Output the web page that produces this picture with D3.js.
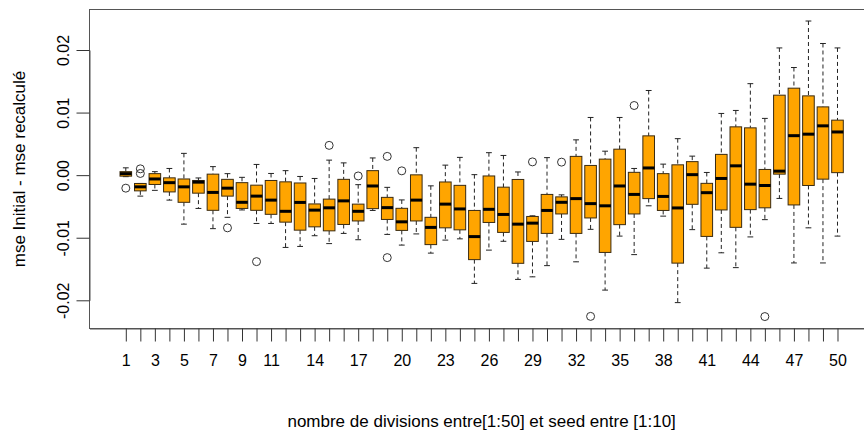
<!DOCTYPE html>
<html>
<head>
<meta charset="utf-8">
<script src="https://cdn.jsdelivr.net/npm/d3@7"></script>
<style>
  body { margin: 0; background: #fff; }
  svg text { font-family: "Liberation Sans", Arial, Helvetica, sans-serif; fill: #000; }
</style>
</head>
<body>
<div id="chart"></div>
<script>
// divisions 1..50 (one box each)
var divisions = [1, 2, 3, 4, 5, 6, 7, 8, 9, 10, 11, 12, 13, 14, 15, 16, 17, 18, 19, 20,
  21, 22, 23, 24, 25, 26, 27, 28, 29, 30, 31, 32, 33, 34, 35, 36, 37, 38, 39, 40,
  41, 42, 43, 44, 45, 46, 47, 48, 49, 50];
var xTickLabels = [1, 3, 5, 7, 9, 11, 14, 17, 20, 23, 26, 29, 32, 35, 38, 41, 44, 47, 50];
var yTicks = [-0.02, -0.01, 0, 0.01, 0.02];

// boxplot stats
var whiskerHigh = [0.00117, -0.00133, 0.00056, 0.00107, 0.00348, -0.00045, 0.00136, 0.00024, -0.00035, 0.00171,
  0.00027, 0.00072, -0.00021, -0.00053, 0.0024, 0.00196, -0.00152, 0.00275, -0.00195, -0.00396,
  0.00439, -0.00171, 0.0016, 0.00284, 0.00008, 0.00359, 0.00315, 0.00051, -0.0065, 0.0028,
  -0.00315, 0.00564, 0.00922, 0.00383, 0.00922, 0.00107, 0.01353, 0.00176, 0.00583, 0.00304,
  0.00043, 0.00986, 0.01034, 0.01462, 0.00907, 0.02033, 0.0172, 0.02463, 0.02104, 0.02033];
var q3 = [0.00056, -0.00133, 0.00024, -0.00043, -0.00061, -0.00085, 0.00016, -0.00067, -0.0012, -0.0016,
  -0.00085, -0.00107, -0.00125, -0.0046, -0.00383, -0.00067, -0.00463, 0.00072, -0.00355, -0.0053,
  0.00005, -0.00674, -0.00109, -0.00163, -0.00564, -0.00013, -0.00192, -0.00069, -0.0066, -0.00308,
  -0.00347, 0.003, 0.00155, 0.00256, 0.00415, 0.00045, 0.00628, 0.00024, 0.00165, 0.00216,
  -0.00131, 0.00332, 0.00772, 0.00756, 0.00091, 0.01278, 0.0139, 0.01267, 0.01091, 0.00879];
var median = [0.00024, -0.00187, -0.00061, -0.0012, -0.00187, -0.00112, -0.00276, -0.00208, -0.00434, -0.00335,
  -0.00399, -0.00578, -0.00436, -0.00559, -0.00522, -0.00411, -0.00578, -0.00173, -0.00519, -0.00746,
  -0.00399, -0.00835, -0.00463, -0.0054, -0.00982, -0.00546, -0.00628, -0.00783, -0.00767, -0.00564,
  -0.00434, -0.00375, -0.00455, -0.0049, -0.00173, -0.00308, 0.00115, -0.0034, -0.00524, 0.00008,
  -0.0028, -0.00053, 0.00149, -0.00144, -0.00165, 0.00064, 0.00631, 0.00655, 0.00788, 0.0069];
var q1 = [-0.00016, -0.00251, -0.00149, -0.00268, -0.00434, -0.00288, -0.00562, -0.00335, -0.00532, -0.00562,
  -0.00626, -0.00751, -0.00879, -0.00826, -0.0089, -0.00788, -0.00732, -0.00535, -0.00708, -0.00883,
  -0.00732, -0.0111, -0.00842, -0.00874, -0.0135, -0.00756, -0.00915, -0.01409, -0.01059, -0.00931,
  -0.0062, -0.00931, -0.00684, -0.01235, -0.00791, -0.0062, -0.00375, -0.00564, -0.01406, -0.00466,
  -0.00979, -0.00556, -0.00834, -0.00551, -0.00522, 0.00016, -0.00476, -0.00165, -0.00064, 0.0004];
var whiskerLow = [-0.00024, -0.00335, -0.00243, -0.00399, -0.00783, -0.00532, -0.00855, -0.00674, -0.00556, -0.00772,
  -0.00772, -0.01155, -0.01139, -0.00968, -0.01094, -0.00931, -0.01032, -0.00564, -0.00947, -0.01118,
  -0.00939, -0.01246, -0.01038, -0.01018, -0.0173, -0.01198, -0.01057, -0.01666, -0.01625, -0.01446,
  -0.01026, -0.01385, -0.00866, -0.01837, -0.00974, -0.0127, -0.0049, -0.00655, -0.02037, -0.00871,
  -0.01486, -0.01241, -0.01478, -0.00987, -0.00711, -0.00372, -0.01403, -0.00842, -0.01403, -0.00974];
// outliers: [division, value]
var outliers = [[1, -0.00208], [2, 0.00101], [2, 0.00027], [8, -0.00842], [10, -0.01382],
  [15, 0.00476], [17, -0.00013], [19, 0.003], [19, -0.01318], [20, 0.00069],
  [29, 0.00212], [31, 0.00208], [33, -0.02257], [36, 0.01113], [45, -0.0226]];

var width = 864, height = 437;
var plotLeft = 89.5, plotRight = 873.8, plotTop = 9.5, plotBottom = 328.5;

var svg = d3.select("#chart").append("svg")
  .attr("width", width)
  .attr("height", height);

var x = d3.scaleLinear().domain([-1.5, 52.5]).range([plotLeft, plotRight]);
var y = d3.scaleLinear().domain([-0.02, 0.02]).range([300.3, 50]);

var step = x(2) - x(1);
var boxW = step * 0.8;
var stapleW = boxW * 0.5;

var boxes = divisions.map(function (d, i) {
  return { div: d, lo: whiskerLow[i], q1: q1[i], med: median[i], q3: q3[i], hi: whiskerHigh[i] };
});

var g = svg.selectAll("g.box").data(boxes).enter().append("g").attr("class", "box");

// whiskers (dashed)
g.append("line")
  .attr("x1", function (d) { return x(d.div); })
  .attr("x2", function (d) { return x(d.div); })
  .attr("y1", function (d) { return y(d.hi); })
  .attr("y2", function (d) { return y(d.q3); })
  .attr("stroke", "#222").attr("stroke-dasharray", "4,3");
g.append("line")
  .attr("x1", function (d) { return x(d.div); })
  .attr("x2", function (d) { return x(d.div); })
  .attr("y1", function (d) { return y(d.q1); })
  .attr("y2", function (d) { return y(d.lo); })
  .attr("stroke", "#222").attr("stroke-dasharray", "4,3");
// staples
g.append("line")
  .attr("x1", function (d) { return x(d.div) - stapleW / 2; })
  .attr("x2", function (d) { return x(d.div) + stapleW / 2; })
  .attr("y1", function (d) { return y(d.hi); })
  .attr("y2", function (d) { return y(d.hi); })
  .attr("stroke", "#222");
g.append("line")
  .attr("x1", function (d) { return x(d.div) - stapleW / 2; })
  .attr("x2", function (d) { return x(d.div) + stapleW / 2; })
  .attr("y1", function (d) { return y(d.lo); })
  .attr("y2", function (d) { return y(d.lo); })
  .attr("stroke", "#222");
// box
g.append("rect")
  .attr("x", function (d) { return x(d.div) - boxW / 2; })
  .attr("width", boxW)
  .attr("y", function (d) { return y(d.q3); })
  .attr("height", function (d) { return y(d.q1) - y(d.q3); })
  .attr("fill", "#FFA500")
  .attr("stroke", "#3a2a10");
// median
g.append("line")
  .attr("x1", function (d) { return x(d.div) - boxW / 2; })
  .attr("x2", function (d) { return x(d.div) + boxW / 2; })
  .attr("y1", function (d) { return y(d.med); })
  .attr("y2", function (d) { return y(d.med); })
  .attr("stroke", "#000").attr("stroke-width", 3);

// outliers
svg.selectAll("circle.out").data(outliers).enter().append("circle")
  .attr("class", "out")
  .attr("cx", function (d) { return x(d[0]); })
  .attr("cy", function (d) { return y(d[1]); })
  .attr("r", 4)
  .attr("fill", "none")
  .attr("stroke", "#333");

// frame
svg.append("rect")
  .attr("x", plotLeft).attr("y", plotTop)
  .attr("width", plotRight - plotLeft).attr("height", plotBottom - plotTop)
  .attr("fill", "none").attr("stroke", "#555");

// x axis
var xAxis = svg.append("g")
  .attr("transform", "translate(0," + plotBottom + ")")
  .call(d3.axisBottom(x).tickValues(divisions).tickSize(13).tickSizeOuter(0)
    .tickFormat(function (d) { return xTickLabels.indexOf(d) >= 0 ? d : ""; }));
xAxis.select(".domain").attr("stroke", "#555");
xAxis.selectAll(".tick line").attr("stroke", "#333");
xAxis.selectAll(".tick text")
  .attr("y", 32).attr("dy", "0.36em")
  .attr("font-size", 16).attr("font-family", null);

// y axis
var yAxis = svg.append("g")
  .attr("transform", "translate(" + plotLeft + ",0)")
  .call(d3.axisLeft(y).tickValues(yTicks).tickSize(13).tickSizeOuter(0)
    .tickFormat(function (d) { return d.toFixed(2); }));
yAxis.select(".domain").attr("stroke", "#555");
yAxis.selectAll(".tick line").attr("stroke", "#333");
yAxis.selectAll(".tick text")
  .attr("x", null).attr("dy", null)
  .attr("transform", "translate(-26,0) rotate(-90)")
  .attr("text-anchor", "middle")
  .attr("dy", "0.36em")
  .attr("font-size", 16).attr("font-family", null);

// axis titles
svg.append("text")
  .attr("x", (plotLeft + plotRight) / 2)
  .attr("y", 421).attr("dy", "0.36em")
  .attr("text-anchor", "middle")
  .attr("font-size", 17)
  .text("nombre de divisions entre[1:50] et seed entre [1:10]");

svg.append("text")
  .attr("transform", "translate(19," + (plotTop + plotBottom) / 2 + ") rotate(-90)")
  .attr("text-anchor", "middle")
  .attr("dy", "0.36em")
  .attr("font-size", 17)
  .text("mse Initial - mse recalculé");
</script>
</body>
</html>
